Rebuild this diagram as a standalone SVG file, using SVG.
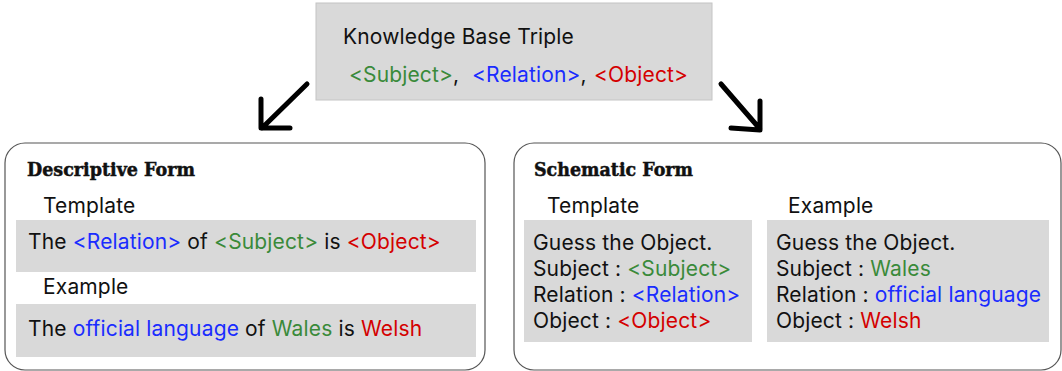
<svg xmlns="http://www.w3.org/2000/svg" width="1062" height="371" viewBox="0 0 1062 371">
<style>
.t{font-family:Inter,"Noto Sans","Liberation Sans",sans-serif;font-size:21px;letter-spacing:0.15px;fill:#111}
.h{font-family:"DejaVu Serif","Liberation Serif",serif;font-weight:bold;font-size:18px;fill:#111;stroke:#111;stroke-width:0.5}
.g{fill:#3a8a3a}.b{fill:#1a2cff}.r{fill:#d40000}
.box{fill:#d9d9d9}
.panel{fill:#fff;stroke:#555;stroke-width:1.2}
.arr{fill:none;stroke:#000;stroke-width:5;stroke-linecap:round;stroke-linejoin:round}
</style>
<rect width="1062" height="371" fill="#fff"/>
<g id="triple">
<rect x="316" y="3" width="396" height="97" class="box" stroke="#c4c4c4" stroke-width="1"/>
<text class="t" x="343" y="44">Knowledge Base Triple</text>
<text class="t" y="82"><tspan x="349" class="g">&lt;Subject&gt;</tspan><tspan>,</tspan><tspan x="472" class="b">&lt;Relation&gt;</tspan><tspan>,</tspan><tspan x="594" class="r">&lt;Object&gt;</tspan></text>
</g>
<g id="connectors">
<path class="arr" d="M307 84 L262 128 M261 99 L261 128 L290 128"/>
<path class="arr" d="M721 84 L760 129 M760 101 L760 130 L731 128"/>
</g>
<g id="descriptive">
<rect x="5" y="143" width="480" height="227" rx="20" class="panel"/>
<text class="h" x="27" y="176" textLength="168" lengthAdjust="spacingAndGlyphs">Descriptive Form</text>
<text class="t" x="43" y="213">Template</text>
<rect x="16" y="220" width="460" height="52" class="box"/>
<text class="t" x="28" y="249">The <tspan class="b">&lt;Relation&gt;</tspan> of <tspan class="g">&lt;Subject&gt;</tspan> is <tspan class="r">&lt;Object&gt;</tspan></text>
<text class="t" x="43" y="294">Example</text>
<rect x="16" y="304" width="460" height="53" class="box"/>
<text class="t" x="28" y="336">The <tspan class="b">official language</tspan> of <tspan class="g">Wales</tspan> is <tspan class="r">Welsh</tspan></text>
</g>
<g id="schematic">
<rect x="514" y="143" width="547" height="227" rx="20" class="panel"/>
<text class="h" x="534" y="176" textLength="159" lengthAdjust="spacingAndGlyphs">Schematic Form</text>
<text class="t" x="547" y="213">Template</text>
<rect x="524" y="220" width="228" height="122" class="box"/>
<text class="t" x="533" y="250">Guess the Object.</text>
<text class="t" x="533" y="276">Subject : <tspan class="g">&lt;Subject&gt;</tspan></text>
<text class="t" x="533" y="302">Relation : <tspan class="b">&lt;Relation&gt;</tspan></text>
<text class="t" x="533" y="328">Object : <tspan class="r">&lt;Object&gt;</tspan></text>
<text class="t" x="788" y="213">Example</text>
<rect x="767" y="220" width="282" height="122" class="box"/>
<text class="t" x="776" y="250">Guess the Object.</text>
<text class="t" x="776" y="276">Subject : <tspan class="g">Wales</tspan></text>
<text class="t" x="776" y="302">Relation : <tspan class="b">official language</tspan></text>
<text class="t" x="776" y="328">Object : <tspan class="r">Welsh</tspan></text>
</g>
</svg>
